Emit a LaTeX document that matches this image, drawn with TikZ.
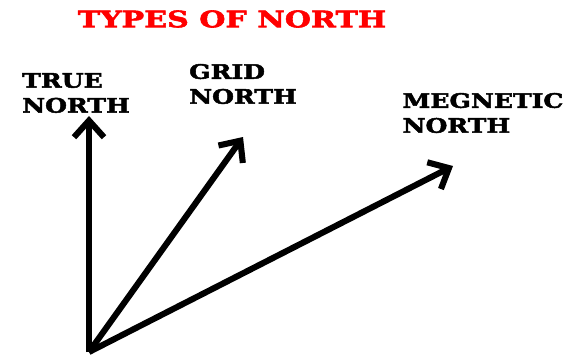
\documentclass[tikz,border=0pt]{standalone}
\usepackage{fontspec}
\newfontfamily\widefont[FakeStretch=1.26, FakeBold=2.5]{DejaVu Serif Bold}
\newfontfamily\titlefont[FakeStretch=1.33, FakeBold=2.5]{DejaVu Serif Bold}
\usepackage{tikz}
\usetikzlibrary{arrows.meta}
\tikzset{
    heading/.style={font=\titlefont\fontsize{19.3}{22}\selectfont, text=red, inner sep=0pt},
    dirlabel/.style={font=\widefont\fontsize{17}{21.3}\selectfont, align=left, inner sep=0pt},
    northarrow/.style={-{Straight Barb[length=5mm, width=9mm]}, line width=5.2pt, line join=miter},
}

\begin{document}
\begin{tikzpicture}[x=0.03cm, y=-0.03cm]
    \useasboundingbox (0,0) rectangle (581,361);
    \node[heading] (title) at (232, 19) {TYPES OF NORTH};
    \node[dirlabel] (truelbl) at (76, 93) {TRUE\\NORTH};
    \node[dirlabel] (gridlbl) at (243, 84) {GRID\\NORTH};
    \node[dirlabel] (maglbl) at (483, 113) {MEGNETIC\\NORTH};
    \coordinate (base) at (89, 352);
    \coordinate (truetip) at (89, 116);
    \coordinate (gridtip) at (243, 137);
    \coordinate (magtip) at (453, 166);
    \draw[northarrow] (base) -- (truetip);
    \draw[northarrow] (base) -- (gridtip);
    \draw[northarrow] (base) -- (magtip);
\end{tikzpicture}
\end{document}
